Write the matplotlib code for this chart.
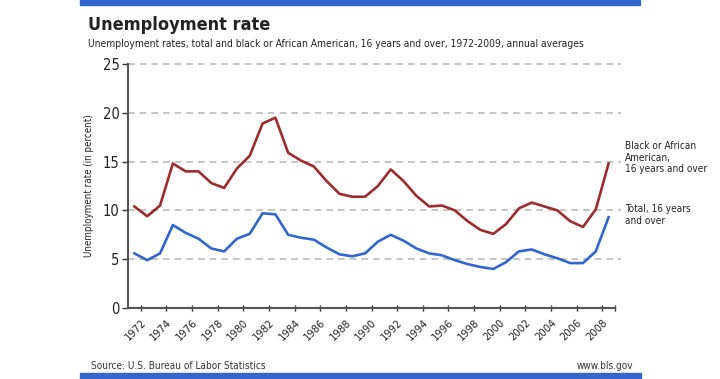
import matplotlib
matplotlib.use("Agg")
import matplotlib.pyplot as plt
from matplotlib.patches import Rectangle

# condensed look like the original (DejaVu Sans Condensed if present)
plt.rcParams['font.family'] = ['DejaVu Sans']
plt.rcParams['font.stretch'] = 'condensed'

# data: annual averages, in percent
years = list(range(1972, 2010))
total = [5.6, 4.9, 5.6, 8.5, 7.7, 7.1, 6.1, 5.8, 7.1, 7.6,
         9.7, 9.6, 7.5, 7.2, 7.0, 6.2, 5.5, 5.3, 5.6, 6.8,
         7.5, 6.9, 6.1, 5.6, 5.4, 4.9, 4.5, 4.2, 4.0, 4.7,
         5.8, 6.0, 5.5, 5.1, 4.6, 4.6, 5.8, 9.3]
black = [10.4, 9.4, 10.5, 14.8, 14.0, 14.0, 12.8, 12.3, 14.3, 15.6,
         18.9, 19.5, 15.9, 15.1, 14.5, 13.0, 11.7, 11.4, 11.4, 12.5,
         14.2, 13.0, 11.5, 10.4, 10.5, 10.0, 8.9, 8.0, 7.6, 8.6,
         10.2, 10.8, 10.4, 10.0, 8.9, 8.3, 10.1, 14.8]
tick_years = list(range(1972, 2009, 2))
y_ticks = [0, 5, 10, 15, 20, 25]

blue = '#3366cc'
red = '#9b2c30'
axis_col = '#555555'
txt = '#222222'

fig = plt.figure(figsize=(7.2, 3.79), dpi=100)
ax = fig.add_axes([128 / 720, 1 - 308 / 379, (615 - 128) / 720, (308 - 64) / 379])

# gridlines
for v in y_ticks[1:]:
    ax.axhline(v, xmax=1.012, color='#bbbbbb', lw=1.2, ls=(0, (4, 3)),
               zorder=1, clip_on=False)

ax.plot(years, black, color=red, lw=1.9, zorder=3)
ax.plot(years, total, color=blue, lw=1.9, zorder=3)

ax.set_xlim(1971.5, 2009.5)
ax.set_ylim(0, 25)
ax.set_yticks(y_ticks)
ax.set_yticklabels([str(v) for v in y_ticks], fontsize=10.5, color=txt)
ax.set_xticks([y + 0.5 for y in tick_years] + [2009.5])
ax.set_xticklabels([str(y) for y in tick_years] + [''], fontsize=8, color=txt,
                   rotation=45, ha='right', va='top', rotation_mode='anchor')
ax.tick_params(axis='x', length=4, width=1, color='#333333', direction='inout', pad=5)
ax.tick_params(axis='y', length=4, width=1, color='#333333', pad=2)

for s in ['top', 'right']:
    ax.spines[s].set_visible(False)
for s in ['left', 'bottom']:
    ax.spines[s].set_color(axis_col)
    ax.spines[s].set_linewidth(1.5)

ax.set_ylabel('Unemployment rate (in percent)', fontsize=7, color=txt, labelpad=6)

# series labels
fig.text(625 / 720, 1 - 141 / 379, 'Black or African\nAmerican,\n16 years and over',
         fontsize=7.2, color=txt, va='top', ha='left', linespacing=1.2)
fig.text(625 / 720, 1 - 204 / 379, 'Total, 16 years\nand over',
         fontsize=7.2, color=txt, va='top', ha='left', linespacing=1.2)

# title, subtitle, footer
fig.text(88 / 720, 1 - 30 / 379, 'Unemployment rate', fontsize=13, fontweight='bold',
         color=txt, va='baseline')
fig.text(88 / 720, 1 - 47 / 379,
         'Unemployment rates, total and black or African American, 16 years and over, 1972-2009, annual averages',
         fontsize=7.4, color=txt, va='baseline')
fig.text(91 / 720, 1 - 369 / 379, 'Source: U.S. Bureau of Labor Statistics',
         fontsize=7.2, color='#333333', va='baseline')
fig.text(633 / 720, 1 - 369 / 379, 'www.bls.gov',
         fontsize=7.2, color='#333333', va='baseline', ha='right')

# blue bars top and bottom
fig.patches.append(Rectangle((80 / 720, 1 - 5 / 379), 560 / 720, 5 / 379,
                             transform=fig.transFigure, color=blue, zorder=0))
fig.patches.append(Rectangle((80 / 720, 0), 561 / 720, 6 / 379,
                             transform=fig.transFigure, color=blue, zorder=0))

fig.savefig('out.png', dpi=100)
